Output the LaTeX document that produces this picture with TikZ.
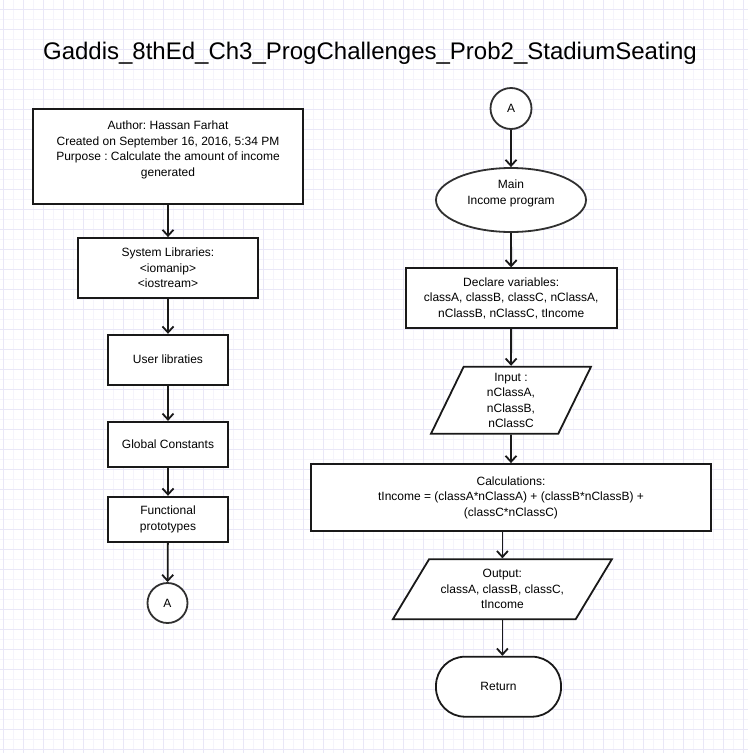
\documentclass[tikz,border=0pt]{standalone}
\usepackage{fontspec}
\setmainfont{Liberation Sans}
\usetikzlibrary{shapes.geometric, arrows.meta, positioning}
\frenchspacing
\definecolor{gridminor}{RGB}{245,244,251}
\definecolor{gridmajor}{RGB}{233,231,247}
\definecolor{flowline}{RGB}{25,25,25}
\tikzstyle{process} = [rectangle, draw=flowline, fill=white, line width=1.8pt,
                       align=center, inner sep=2pt, font=\fontsize{12}{15.5}\selectfont]
\tikzstyle{terminal} = [ellipse, draw=flowline!90, fill=white, line width=1.8pt,
                        align=center, inner sep=0pt, font=\fontsize{12}{15.5}\selectfont]
\tikzstyle{connector} = [circle, draw=flowline!90, fill=white, line width=1.8pt,
                         minimum size=40, inner sep=0pt, font=\fontsize{12}{15.5}\selectfont]
\tikzstyle{io} = [trapezium, trapezium stretches body, draw=flowline, fill=white, line width=1.8pt,
                  align=center, inner sep=0pt, font=\fontsize{12}{15.5}\selectfont]
\tikzstyle{arrow} = [-{Straight Barb[length=6pt, width=11pt]}, line width=1.8pt, flowline]

\begin{document}
\begin{tikzpicture}[x=1pt, y=-1pt]

% Background grid
\useasboundingbox (0,0) rectangle (748,753);
\fill[white] (0,0) rectangle (748,753);
\foreach \x in {13,33,...,748} \draw[gridminor, line width=1pt] (\x,0) -- (\x,753);
\foreach \y in {19,39,...,753} \draw[gridminor, line width=1pt] (0,\y) -- (748,\y);
\foreach \x in {3,23,...,748} \draw[gridmajor, line width=1pt] (\x,0) -- (\x,753);
\foreach \y in {9,29,...,753} \draw[gridmajor, line width=1pt] (0,\y) -- (748,\y);

% Title
\node[font=\fontsize{24}{28}\selectfont] (title) at (370,53) {Gaddis\_8thEd\_Ch3\_ProgChallenges\_Prob2\_StadiumSeating};

% Left column
\node[process, minimum width=270, minimum height=95] (header) at (168,156.5) {
    Author: Hassan Farhat\\
    Created on September 16, 2016, 5:34 PM\\
    Purpose : Calculate the amount of income\\
    generated\\ \mbox{}
};
\node[process, minimum width=180, minimum height=60] (syslib) at (168,268) {
    System Libraries:\\ <iomanip>\\ <iostream>
};
\node[process, minimum width=120, minimum height=50] (userlib) at (168,359.7) {User libraties};
\node[process, minimum width=120, minimum height=45] (globconst) at (168,444.3) {Global Constants};
\node[process, minimum width=120, minimum height=45] (protos) at (168,519.2) {Functional\\ prototypes};
\node[connector] (connA) at (167.5,603) {A};

% Right column
\node[connector, minimum size=41] (connB) at (511,108.5) {A};
\node[terminal, minimum width=150, minimum height=64] (mainprog) at (511,200) {Main\\ Income program\\ \mbox{}};
\node[process, minimum width=211, minimum height=60] (declare) at (511.2,298.3) {
    Declare variables:\\
    classA, classB, classC, nClassA,\\
    nClassB, nClassC, tIncome
};
\node[io, trapezium left angle=59.2, trapezium right angle=120.8,
      minimum width=160, minimum height=67] (input) at (511,400.2) {
    Input :\\ nClassA,\\ nClassB,\\ nClassC
};
\node[process, minimum width=400, minimum height=67] (calc) at (511,497.5) {
    Calculations:\\
    tIncome = (classA*nClassA) + (classB*nClassB) +\\
    (classC*nClassC)
};
\node[io, trapezium left angle=47.5, trapezium right angle=132.5,
      minimum width=219, minimum height=60] (output) at (502.4,589.2) {
    Output:\\ classA, classB, classC,\\ tIncome
};
\node[process, rounded corners=29, minimum width=125, minimum height=60] (ret) at (498.5,686.7) {Return};

% Arrows
\draw[arrow] (header) -- (syslib);
\draw[arrow] (syslib) -- (userlib);
\draw[arrow] (userlib) -- (globconst);
\draw[arrow] (globconst) -- (protos);
\draw[arrow] (protos) -- (connA);
\draw[arrow] (connB) -- (mainprog);
\draw[arrow] (mainprog) -- (declare);
\draw[arrow] (declare) -- (input);
\draw[arrow] (input) -- (calc);
\draw[arrow] (output.north |- calc.south) -- (output.north);
\draw[arrow] (output.south) -- (output.south |- ret.north);

\end{tikzpicture}
\end{document}
